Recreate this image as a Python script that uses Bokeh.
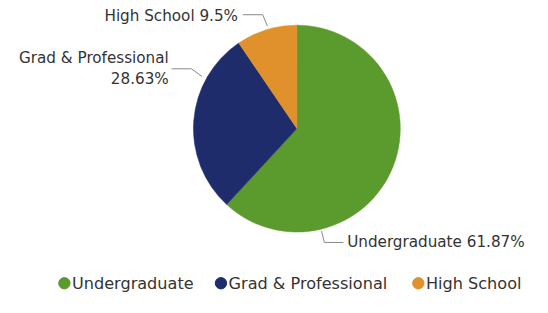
import math
from bokeh.plotting import figure
from bokeh.models import Range1d, ColumnDataSource
from bokeh.core.properties import value
from bokeh.embed import file_html
from bokeh.resources import INLINE

# ---- data ----
categories = ["Undergraduate", "Grad & Professional", "High School"]
shares = [61.87, 28.63, 9.5]
pct_labels = ["61.87%", "28.63%", "9.5%"]
colors = ["#5b9a2c", "#1f2c6c", "#e0912b"]

# ---- layout (reference pixel space: x right, y down), scaled to fit ----
W, H = 532, 297
S = H / 313.0
FONT = "DejaVu Sans"
TXT = "#333333"
LINE = "#8a8a8a"

xspan = W / S
xoff = (xspan - 548) / 2.0
p = figure(width=W, height=H, output_backend="svg", toolbar_location=None,
           x_range=Range1d(-xoff - 2, xspan - xoff - 2), y_range=Range1d(0, 313),
           min_border=0, outline_line_color=None)
p.axis.visible = False
p.grid.visible = False
p.background_fill_color = "white"
p.border_fill_color = "white"

def Y(py):  # reference y -> data y
    return 313 - py

cx, cy, r = 304, 135, 109

# wedges: start at top, go clockwise
total = sum(shares)
starts, ends = [], []
acc = 0.0
for s in shares:
    a0 = math.pi / 2 - 2 * math.pi * acc / total
    acc += s
    a1 = math.pi / 2 - 2 * math.pi * acc / total
    starts.append(a1)
    ends.append(a0)

src = ColumnDataSource(dict(start=starts, end=ends, color=colors, cat=categories))
p.wedge(x=cx, y=Y(cy), radius=r, start_angle="start", end_angle="end",
        fill_color="color", line_color="color", line_width=0.5, source=src)

# ---- callout labels ----
leaders = [
    [(330, 243), (333, 255), (353, 255)],
    [(204, 80), (193, 72), (172, 72)],
    [(273, 27), (268, 15), (247, 15)],
]
for pts in leaders:
    p.line([q[0] for q in pts], [Y(q[1]) for q in pts], line_color=LINE, line_width=1)

fs = "%.1fpx" % (16 * S)
p.text(x=[357], y=[Y(255)], text=[f"{categories[0]} {pct_labels[0]}"],
       text_font=value(FONT), text_font_size=fs, text_color=TXT,
       text_align="left", text_baseline="middle")
p.text(x=[169, 169], y=[Y(61), Y(83)], text=[categories[1], pct_labels[1]],
       text_font=value(FONT), text_font_size=fs, text_color=TXT,
       text_align="right", text_baseline="middle")
p.text(x=[242], y=[Y(16)], text=[f"{categories[2]} {pct_labels[2]}"],
       text_font=value(FONT), text_font_size=fs, text_color=TXT,
       text_align="right", text_baseline="middle")

# ---- legend ----
leg_x = [59, 224, 432]
leg_y = Y(298)
p.scatter(x=leg_x, y=[leg_y] * 3, size=12 * S, marker="circle",
          fill_color=colors, line_color=colors)
p.text(x=[lx + 8 for lx in leg_x], y=[leg_y] * 3, text=categories,
       text_font=value(FONT), text_font_size="%.1fpx" % (17 * S), text_color=TXT,
       text_align="left", text_baseline="middle")

open("out.html", "w").write(file_html(p, INLINE))
